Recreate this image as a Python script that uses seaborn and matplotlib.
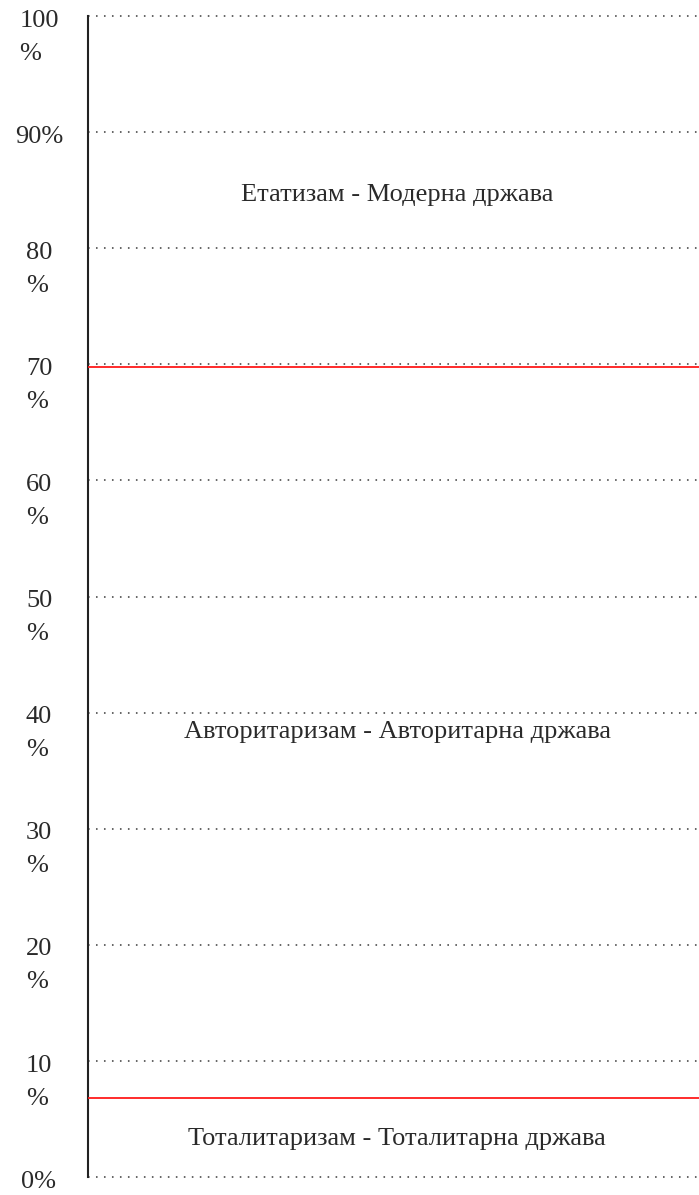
import numpy as np
import pandas as pd
import matplotlib
matplotlib.use("Agg")
import matplotlib.pyplot as plt
import seaborn as sns

# scale levels and their labels
levels = [0, 10, 20, 30, 40, 50, 60, 70, 80, 90, 100]
level_labels = ["0%", "10\n%", "20\n%", "30\n%", "40\n%", "50\n%",
                "60\n%", "70\n%", "80\n%", "90%", "100\n%"]

# borders between the state types (red lines)
borders = [6.8, 69.8]

# zones of the scale
zones = ["Тоталитаризам - Тоталитарна држава",
         "Авторитаризам - Авторитарна држава",
         "Етатизам - Модерна држава"]
zone_y = [3.3, 38.3, 84.6]

sns.set_theme(style="white")
plt.rcParams["font.family"] = ["Liberation Serif", "DejaVu Serif"]

fig = plt.figure(figsize=(6.99, 11.95), dpi=100)
W, H = 699, 1195
ax = fig.add_axes([88 / W, 18 / H, 1 - 88 / W, (1177 - 16) / H])
ax.set_xlim(0, 1)
ax.set_ylim(0, 100)

for lv in levels:
    ax.axhline(lv, color="#444444", lw=1.15, linestyle=(0, (1, 4.0)), zorder=1,
               clip_on=False)

df_b = pd.DataFrame({"x": [0, 1] * len(borders),
                     "y": np.repeat(borders, 2),
                     "b": np.repeat(range(len(borders)), 2)})
sns.lineplot(data=df_b, x="x", y="y", units="b", estimator=None, color="#ff1a1a",
             lw=1.3, ax=ax, legend=False, zorder=3)

for name, y in zip(zones, zone_y):
    ax.text(0.506, y, name, transform=ax.get_yaxis_transform(), ha="center",
            va="center", fontsize=19, color="#2a2a2a")

for lv, lab in zip(levels, level_labels):
    ax.text(-49 / 611, lv + 0.55, lab, transform=ax.get_yaxis_transform(),
            ha="center", va="top", multialignment="left", fontsize=19,
            color="#2a2a2a", linespacing=1.65)

ax.set_xticks([])
ax.set_yticks([])
ax.set_xlabel("")
ax.set_ylabel("")
sns.despine(ax=ax, top=True, right=True, bottom=True)
ax.spines["left"].set_color("#222222")
ax.spines["left"].set_linewidth(1.5)

fig.savefig("out.png", dpi=100)
